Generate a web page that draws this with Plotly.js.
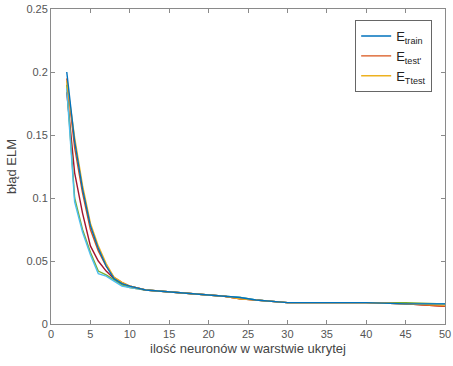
<!DOCTYPE html>
<html>
<head>
<meta charset="utf-8">
<script src="https://cdn.plot.ly/plotly-3.0.1.min.js"></script>
<style>html,body{margin:0;padding:0;background:#fff;}#chart{width:453px;height:366px;}</style>
</head>
<body>
<div id="chart"></div>
<script>
const neurons = [2,3,4,5,6,7,8,9,10,12,14,16,18,20,22,24,26,28,30,35,40,45,50];
const eTrain  = [0.200,0.145,0.107,0.078,0.060,0.046,0.036,0.032,0.030,0.027,0.026,0.025,0.024,0.023,0.022,0.021,0.019,0.018,0.017,0.017,0.017,0.016,0.016];
const eTest   = [0.195,0.140,0.104,0.075,0.058,0.046,0.037,0.033,0.030,0.027,0.026,0.025,0.024,0.023,0.022,0.020,0.019,0.018,0.017,0.017,0.017,0.016,0.014];
const eTtest  = [0.193,0.148,0.110,0.080,0.062,0.048,0.037,0.033,0.030,0.027,0.026,0.025,0.024,0.023,0.022,0.020,0.019,0.018,0.017,0.017,0.017,0.016,0.015];
const eGreen  = [0.190,0.100,0.075,0.057,0.042,0.039,0.035,0.031,0.029,0.027,0.026,0.025,0.024,0.023,0.022,0.021,0.019,0.018,0.017,0.017,0.017,0.017,0.016];
const eCyan   = [0.187,0.097,0.073,0.055,0.040,0.038,0.034,0.030,0.029,0.027,0.026,0.025,0.024,0.023,0.022,0.021,0.019,0.018,0.017,0.017,0.017,0.016,0.016];
const eRed    = [0.184,0.120,0.088,0.062,0.050,0.042,0.036,0.032,0.030,0.027,0.026,0.025,0.024,0.023,0.022,0.020,0.019,0.018,0.017,0.017,0.017,0.016,0.014];
const seriesNames = ['E<sub>train</sub>', "E<sub>test'</sub>", 'E<sub>Ttest</sub>', 'E4', 'E5', 'E6'];
const seriesColors = ['#0072BD','#D95319','#EDB120','#77AC30','#4DBEEE','#A2142F'];
const seriesData = [eTrain, eTest, eTtest, eGreen, eCyan, eRed];
const drawOrder = [5,3,4,1,2,0];

const traces = drawOrder.map(i => ({
  x: neurons, y: seriesData[i], type: 'scatter', mode: 'lines',
  name: seriesNames[i], showlegend: i < 3, legendrank: i + 1,
  line: {color: seriesColors[i], width: 1.4}
}));

const axisCommon = {
  showgrid: false, zeroline: false, showline: true, mirror: 'ticks',
  linecolor: '#8a8a8a', linewidth: 1, ticks: 'inside', ticklen: 4,
  tickcolor: '#8a8a8a', ticklabeloverflow: 'allow',
  tickfont: {family: 'Liberation Sans, Arial', size: 11, color: '#555'}
};

const layout = {
  width: 453, height: 366,
  margin: {l: 51, r: 8, t: 9, b: 42},
  paper_bgcolor: '#fff', plot_bgcolor: '#fff',
  xaxis: Object.assign({}, axisCommon, {
    range: [0, 50.0001], tickvals: [0,5,10,15,20,25,30,35,40,45,50],
    ticktext: ['0','5','10','15','20','25','30','35','40','45','50'],
    title: {text: 'ilość neuronów w warstwie ukrytej', standoff: 4,
      font: {family: 'Liberation Sans, Arial', size: 13, color: '#444'}}
  }),
  yaxis: Object.assign({}, axisCommon, {
    range: [0, 0.25], tickvals: [0,0.05,0.1,0.15,0.2,0.25],
    ticktext: ['0','0.05','0.1','0.15','0.2','0.25'],
    title: {text: 'błąd ELM', standoff: 6,
      font: {family: 'Liberation Sans, Arial', size: 13, color: '#444'}}
  }),
  legend: {
    x: 0.772, y: 0.965, xanchor: 'left', yanchor: 'top',
    bordercolor: '#666', borderwidth: 1, bgcolor: '#fff',
    font: {family: 'Liberation Sans, Arial', size: 13, color: '#222'},
    tracegroupgap: 0, itemwidth: 30
  },
  showlegend: true
};

Plotly.newPlot('chart', traces, layout, {staticPlot: true, displayModeBar: false});
</script>
</body>
</html>
